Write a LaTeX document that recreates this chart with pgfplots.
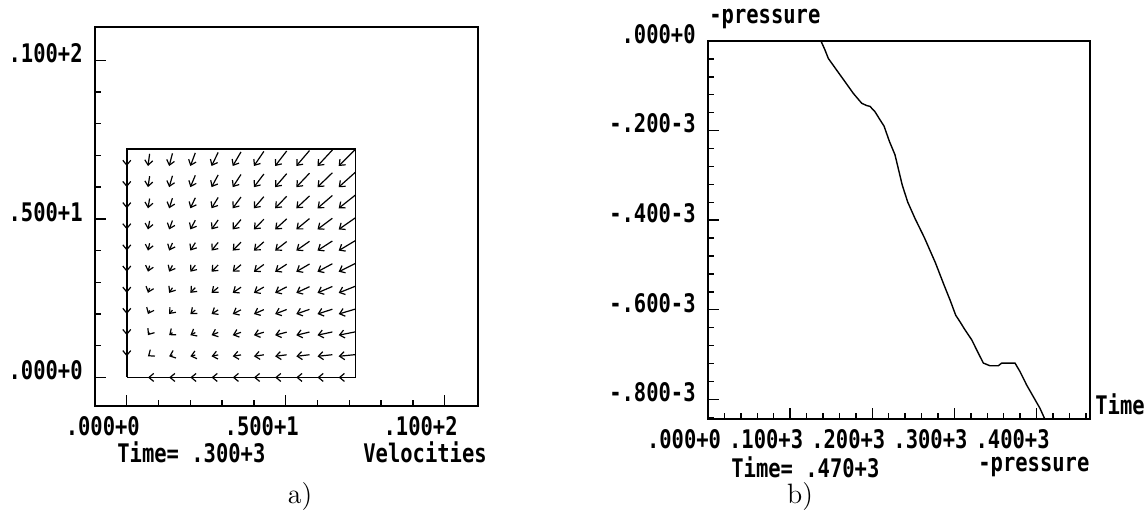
\documentclass[border=0pt]{standalone}
\usepackage{pgfplots}
\pgfplotsset{compat=1.18}
\usepackage{pgfplotstable}
\usepackage{fontspec}
\usetikzlibrary{arrows.meta}
\newfontfamily\plotfont[FakeStretch=0.8]{DejaVu Sans Mono}
\newcommand\pf{\plotfont\bfseries\fontsize{12.8}{14}\selectfont}

% velocity field: head position (x,y) and vector (u,v)
\pgfplotstableread{
x y u v
0.667 0 -0.026 0
1.333 0 -0.052 0
2 0 -0.078 0
2.667 0 -0.104 0
3.333 0 -0.130 0
4 0 -0.156 0
4.667 0 -0.182 0
5.333 0 -0.208 0
6 0 -0.234 0
6.667 0 -0.260 0
0 0.667 0 -0.037
0.667 0.667 -0.052 -0.038
1.333 0.667 -0.104 -0.040
2 0.667 -0.156 -0.041
2.667 0.667 -0.208 -0.043
3.333 0.667 -0.260 -0.044
4 0.667 -0.312 -0.046
4.667 0.667 -0.364 -0.047
5.333 0.667 -0.416 -0.049
6 0.667 -0.468 -0.050
6.667 0.667 -0.520 -0.052
0 1.333 0 -0.074
0.667 1.333 -0.052 -0.077
1.333 1.333 -0.104 -0.080
2 1.333 -0.156 -0.083
2.667 1.333 -0.208 -0.086
3.333 1.333 -0.260 -0.089
4 1.333 -0.312 -0.092
4.667 1.333 -0.364 -0.095
5.333 1.333 -0.416 -0.098
6 1.333 -0.468 -0.101
6.667 1.333 -0.520 -0.104
0 2 0 -0.111
0.667 2 -0.052 -0.115
1.333 2 -0.104 -0.120
2 2 -0.156 -0.124
2.667 2 -0.208 -0.129
3.333 2 -0.260 -0.133
4 2 -0.312 -0.138
4.667 2 -0.364 -0.142
5.333 2 -0.416 -0.147
6 2 -0.468 -0.151
6.667 2 -0.520 -0.155
0 2.667 0 -0.148
0.667 2.667 -0.052 -0.154
1.333 2.667 -0.104 -0.160
2 2.667 -0.156 -0.166
2.667 2.667 -0.208 -0.172
3.333 2.667 -0.260 -0.178
4 2.667 -0.312 -0.184
4.667 2.667 -0.364 -0.189
5.333 2.667 -0.416 -0.195
6 2.667 -0.468 -0.201
6.667 2.667 -0.520 -0.207
0 3.333 0 -0.185
0.667 3.333 -0.052 -0.192
1.333 3.333 -0.104 -0.200
2 3.333 -0.156 -0.207
2.667 3.333 -0.208 -0.215
3.333 3.333 -0.260 -0.222
4 3.333 -0.312 -0.229
4.667 3.333 -0.364 -0.237
5.333 3.333 -0.416 -0.244
6 3.333 -0.468 -0.252
6.667 3.333 -0.520 -0.259
0 4 0 -0.222
0.667 4 -0.052 -0.231
1.333 4 -0.104 -0.240
2 4 -0.156 -0.249
2.667 4 -0.208 -0.258
3.333 4 -0.260 -0.266
4 4 -0.312 -0.275
4.667 4 -0.364 -0.284
5.333 4 -0.416 -0.293
6 4 -0.468 -0.302
6.667 4 -0.520 -0.311
0 4.667 0 -0.259
0.667 4.667 -0.052 -0.269
1.333 4.667 -0.104 -0.280
2 4.667 -0.156 -0.290
2.667 4.667 -0.208 -0.300
3.333 4.667 -0.260 -0.311
4 4.667 -0.312 -0.321
4.667 4.667 -0.364 -0.332
5.333 4.667 -0.416 -0.342
6 4.667 -0.468 -0.352
6.667 4.667 -0.520 -0.363
0 5.333 0 -0.296
0.667 5.333 -0.052 -0.308
1.333 5.333 -0.104 -0.320
2 5.333 -0.156 -0.332
2.667 5.333 -0.208 -0.343
3.333 5.333 -0.260 -0.355
4 5.333 -0.312 -0.367
4.667 5.333 -0.364 -0.379
5.333 5.333 -0.416 -0.391
6 5.333 -0.468 -0.403
6.667 5.333 -0.520 -0.414
0 6 0 -0.333
0.667 6 -0.052 -0.346
1.333 6 -0.104 -0.360
2 6 -0.156 -0.373
2.667 6 -0.208 -0.386
3.333 6 -0.260 -0.400
4 6 -0.312 -0.413
4.667 6 -0.364 -0.426
5.333 6 -0.416 -0.440
6 6 -0.468 -0.453
6.667 6 -0.520 -0.466
0 6.667 0 -0.370
0.667 6.667 -0.052 -0.385
1.333 6.667 -0.104 -0.400
2 6.667 -0.156 -0.414
2.667 6.667 -0.208 -0.429
3.333 6.667 -0.260 -0.444
4 6.667 -0.312 -0.459
4.667 6.667 -0.364 -0.474
5.333 6.667 -0.416 -0.488
6 6.667 -0.468 -0.503
6.667 6.667 -0.520 -0.518
}\velo

% pressure (units of 1e-3) vs time
\pgfplotstableread{
t p
137.5 0
142.4 -0.020
146.5 -0.039
156.6 -0.065
166.8 -0.091
176.9 -0.117
187.1 -0.139
193.0 -0.144
197.2 -0.146
203.3 -0.158
209.4 -0.176
214.3 -0.190
220.8 -0.224
227.6 -0.254
236.5 -0.322
243.2 -0.360
252.2 -0.397
263.4 -0.439
276.8 -0.495
288.0 -0.548
294.6 -0.578
301.5 -0.612
306.8 -0.627
312.9 -0.645
321.0 -0.667
329.1 -0.697
335.2 -0.719
343.3 -0.725
353.4 -0.725
357.5 -0.719
373.7 -0.719
379.8 -0.738
387.9 -0.768
396.0 -0.794
404.1 -0.820
410.0 -0.844
}\press

\begin{document}
\begin{tikzpicture}
\useasboundingbox (0,0) rectangle (573.5pt,264.5pt);
\pgfplotsset{
  oldstyle/.style={
    scale only axis,
    axis line style={line width=0.9pt},
    tick align=inside, xtick pos=bottom, ytick pos=left,
    major tick length=5.5pt, minor tick length=2.8pt,
    every tick/.style={black, line width=0.7pt},
    every minor tick/.style={black, line width=0.7pt},
    tick label style={font=\pf},
    xticklabel style={anchor=north, inner sep=0pt, xshift=-12pt, yshift=-5pt},
    yticklabel style={anchor=east, inner sep=0pt, xshift=-6pt, yshift=3.5pt},
  }
}
\begin{axis}[oldstyle,
  width=191.5pt, height=189.5pt,
  at={(47.5pt,61.5pt)}, anchor=south west,
  xmin=-1, xmax=11.05, ymin=-0.9, ymax=11.05,
  xtick={0,5,10}, xticklabels={.000+0,.500+1,.100+2},
  minor xtick={1,2,3,4,6,7,8,9},
  ytick={0,5,10}, yticklabels={.000+0,.500+1,.100+2},
  minor ytick={1,2,3,4,6,7,8,9},
]
\addplot[black, line width=0.8pt] coordinates {(0,0) (7.2,0) (7.2,7.2) (0,7.2) (0,0)};
\addplot[black, line width=0.6pt, -{Straight Barb[length=2.4pt,width=4pt]},
  quiver={u=\thisrow{u}, v=\thisrow{v}}]
  table[x expr=\thisrow{x}-\thisrow{u}, y expr=\thisrow{y}-\thisrow{v}] {\velo};
\end{axis}

\begin{axis}[oldstyle,
  width=191pt, height=189pt,
  at={(354pt,55pt)}, anchor=south west,
  xmin=0, xmax=465, ymin=-0.8438, ymax=0,
  xtick={0,100,200,300,400}, xticklabels={.000+0,.100+3,.200+3,.300+3,.400+3},
  minor xtick={20,40,60,80,120,140,160,180,220,240,260,280,320,340,360,380,420,440,460},
  ytick={-0.8,-0.6,-0.4,-0.2,0}, yticklabels={-.800-3,-.600-3,-.400-3,-.200-3,.000+0},
  minor ytick={-0.04,-0.08,-0.12,-0.16,-0.24,-0.28,-0.32,-0.36,-0.44,-0.48,-0.52,-0.56,-0.64,-0.68,-0.72,-0.76,-0.84},
]
\addplot[black, line width=0.7pt] table[x=t, y=p] {\press};
\end{axis}

\node[font=\pf, anchor=west, inner sep=0pt] at (58.5pt,38.5pt) {Time= .300+3};
\node[font=\pf, anchor=west, inner sep=0pt] at (181.5pt,38.5pt) {Velocities};
\node[font=\fontsize{14}{16}\selectfont, inner sep=0pt] at (150pt,16pt) {a)};

\node[font=\pf, anchor=west, inner sep=0pt] at (354.5pt,255pt) {-pressure};
\node[font=\pf, anchor=west, inner sep=0pt] at (365.5pt,31pt) {Time= .470+3};
\node[font=\pf, anchor=west, inner sep=0pt] at (489pt,31pt) {-pressure};
\node[font=\pf, anchor=west, inner sep=0pt] at (547.5pt,62.5pt) {Time};
\node[font=\fontsize{14}{16}\selectfont, inner sep=0pt] at (400pt,16pt) {b)};
\end{tikzpicture}
\end{document}
